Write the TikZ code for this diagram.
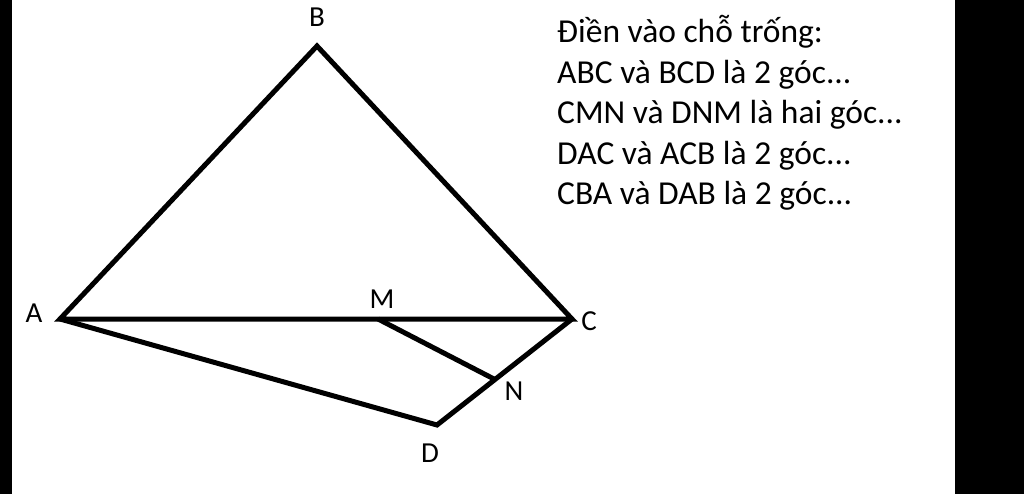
\documentclass[tikz,border=0pt]{standalone}
\usepackage{fontspec}
\setmainfont{Carlito}
\tikzset{
  edge/.style={line width=5pt},
  pt/.style={font=\fontsize{29}{34}\selectfont, inner sep=0pt}
}
\begin{document}
\begin{tikzpicture}[x=1pt,y=-1pt]
\useasboundingbox (0,0) rectangle (1024,494);
\fill[black] (0,0) rectangle (12,494);
\fill[black] (955,0) rectangle (1024,494);

\coordinate (A) at (60,319);
\coordinate (B) at (317,46);
\coordinate (C) at (572,319);
\coordinate (M) at (378,319);
\coordinate (N) at (494,379);
\coordinate (D) at (437,425);

\draw[edge] (A) -- (B) -- (C) -- cycle;
\draw[edge] (A) -- (D) -- (C);
\draw[edge] (M) -- (N);

\node[pt] (lA) at (34,313) {A};
\node[pt] (lB) at (317,17) {B};
\node[pt] (lC) at (589,321) {C};
\node[pt] (lM) at (382,299) {M};
\node[pt] (lN) at (514,391) {N};
\node[pt] (lD) at (430,453) {D};

% last line sits on the base anchor
\node[anchor=base west, inner sep=0pt, align=left, font=\fontsize{33.5}{40.5}\selectfont] (txt) at (557,205)
  {Điền vào chỗ trống:\\ABC và BCD là 2 góc...\\CMN và DNM là hai góc...\\DAC và ACB là 2 góc...\\CBA và DAB là 2 góc...};
\end{tikzpicture}
\end{document}
